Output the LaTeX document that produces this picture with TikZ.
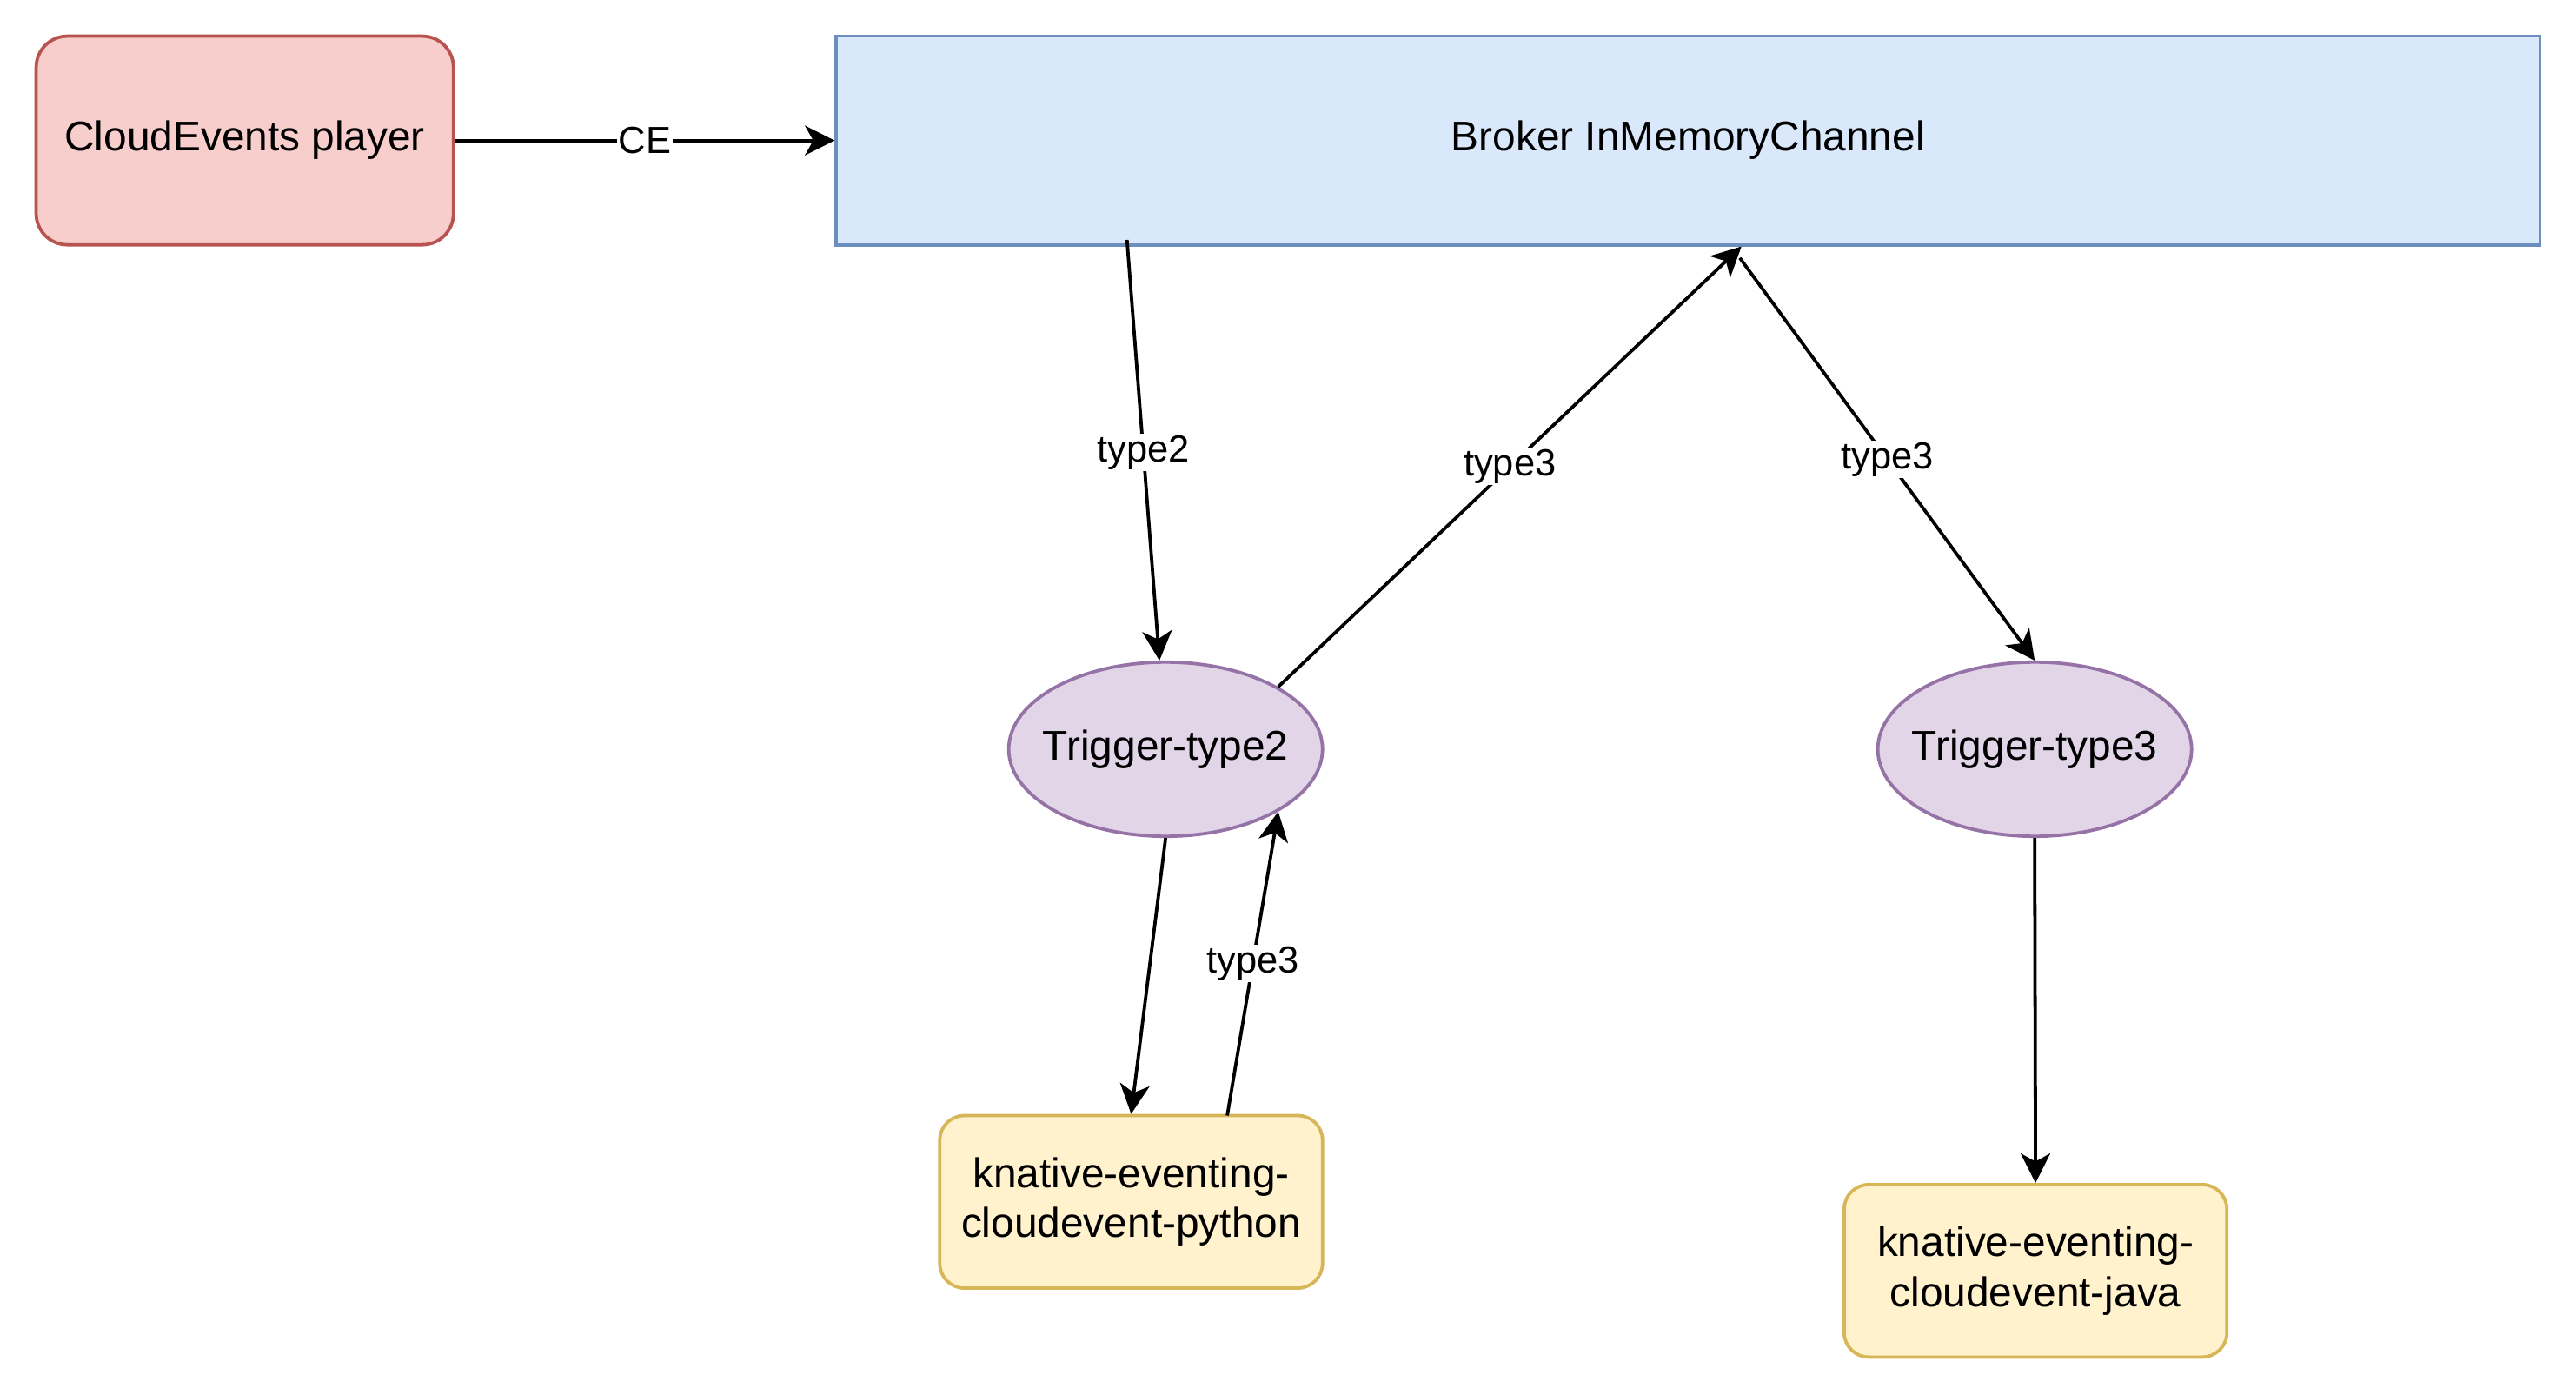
\documentclass[tikz,border=0pt]{standalone}
\usepackage{fontspec}
\setmainfont{Liberation Sans}
\usetikzlibrary{arrows.meta,shapes.geometric}
\definecolor{redfill}{HTML}{F8CECC}
\definecolor{redline}{HTML}{B85450}
\definecolor{bluefill}{HTML}{DAE8FC}
\definecolor{blueline}{HTML}{6C8EBF}
\definecolor{purpfill}{HTML}{E1D5E7}
\definecolor{purpline}{HTML}{9673A6}
\definecolor{yelfill}{HTML}{FFF2CC}
\definecolor{yelline}{HTML}{D6B656}
\begin{document}
\begin{tikzpicture}[x=1pt,y=-1pt,
  base/.style={line width=2pt, inner sep=0pt, align=center, font=\fontsize{25.3}{30.4}\selectfont},
  playerbox/.style={base, draw=redline, fill=redfill, rounded corners=19pt, minimum width=254pt, minimum height=127pt},
  brokerbox/.style={base, draw=blueline, fill=bluefill, minimum width=1037pt, minimum height=127pt},
  trig/.style={base, ellipse, draw=purpline, fill=purpfill, minimum width=191pt, minimum height=106pt,
    label={[font=\fontsize{25.3}{30.4}\selectfont]center:#1}},
  svc/.style={base, draw=yelline, fill=yelfill, rounded corners=15pt, minimum width=233pt, minimum height=105pt},
  arr/.style={line width=2pt, -{Stealth[length=18pt,width=18pt,inset=5pt]}},
  lbl/.style={fill=white, inner sep=1pt, font=\fontsize{23}{27}\selectfont}]
\useasboundingbox (0,0) rectangle (1568,849);

\node[playerbox] (player) at (149,85.5) {CloudEvents player};
\node[brokerbox] (broker) at (1027.5,85.5) {Broker InMemoryChannel};
\node[trig=Trigger-type2] (t2) at (709.5,456) {};
\node[trig=Trigger-type3] (t3) at (1238.5,456) {};
\node[svc] (py) at (688.5,731.5) {knative-eventing-\\cloudevent-python};
\node[svc] (java) at (1239,773.5) {knative-eventing-\\cloudevent-java};

\coordinate (bA) at (686,146);
\coordinate (bB) at (1060,150);
\coordinate (bC) at (1059,157);
\coordinate (pyA) at (747,679);

\draw[arr] (player) -- node[lbl]{CE} (broker);
\draw[arr] (bA) -- node[lbl, pos=0.505]{type2} (t2.94);
\draw[arr] (t2.29) -- node[lbl]{type3} (bB);
\draw[arr] (bC) -- node[lbl]{type3} (t3.north);
\draw[arr] (t2.south) -- (py.north);
\draw[arr] (pyA) -- node[lbl]{type3} (t2.-29);
\draw[arr] (t3.south) -- (java.north);
\end{tikzpicture}
\end{document}
